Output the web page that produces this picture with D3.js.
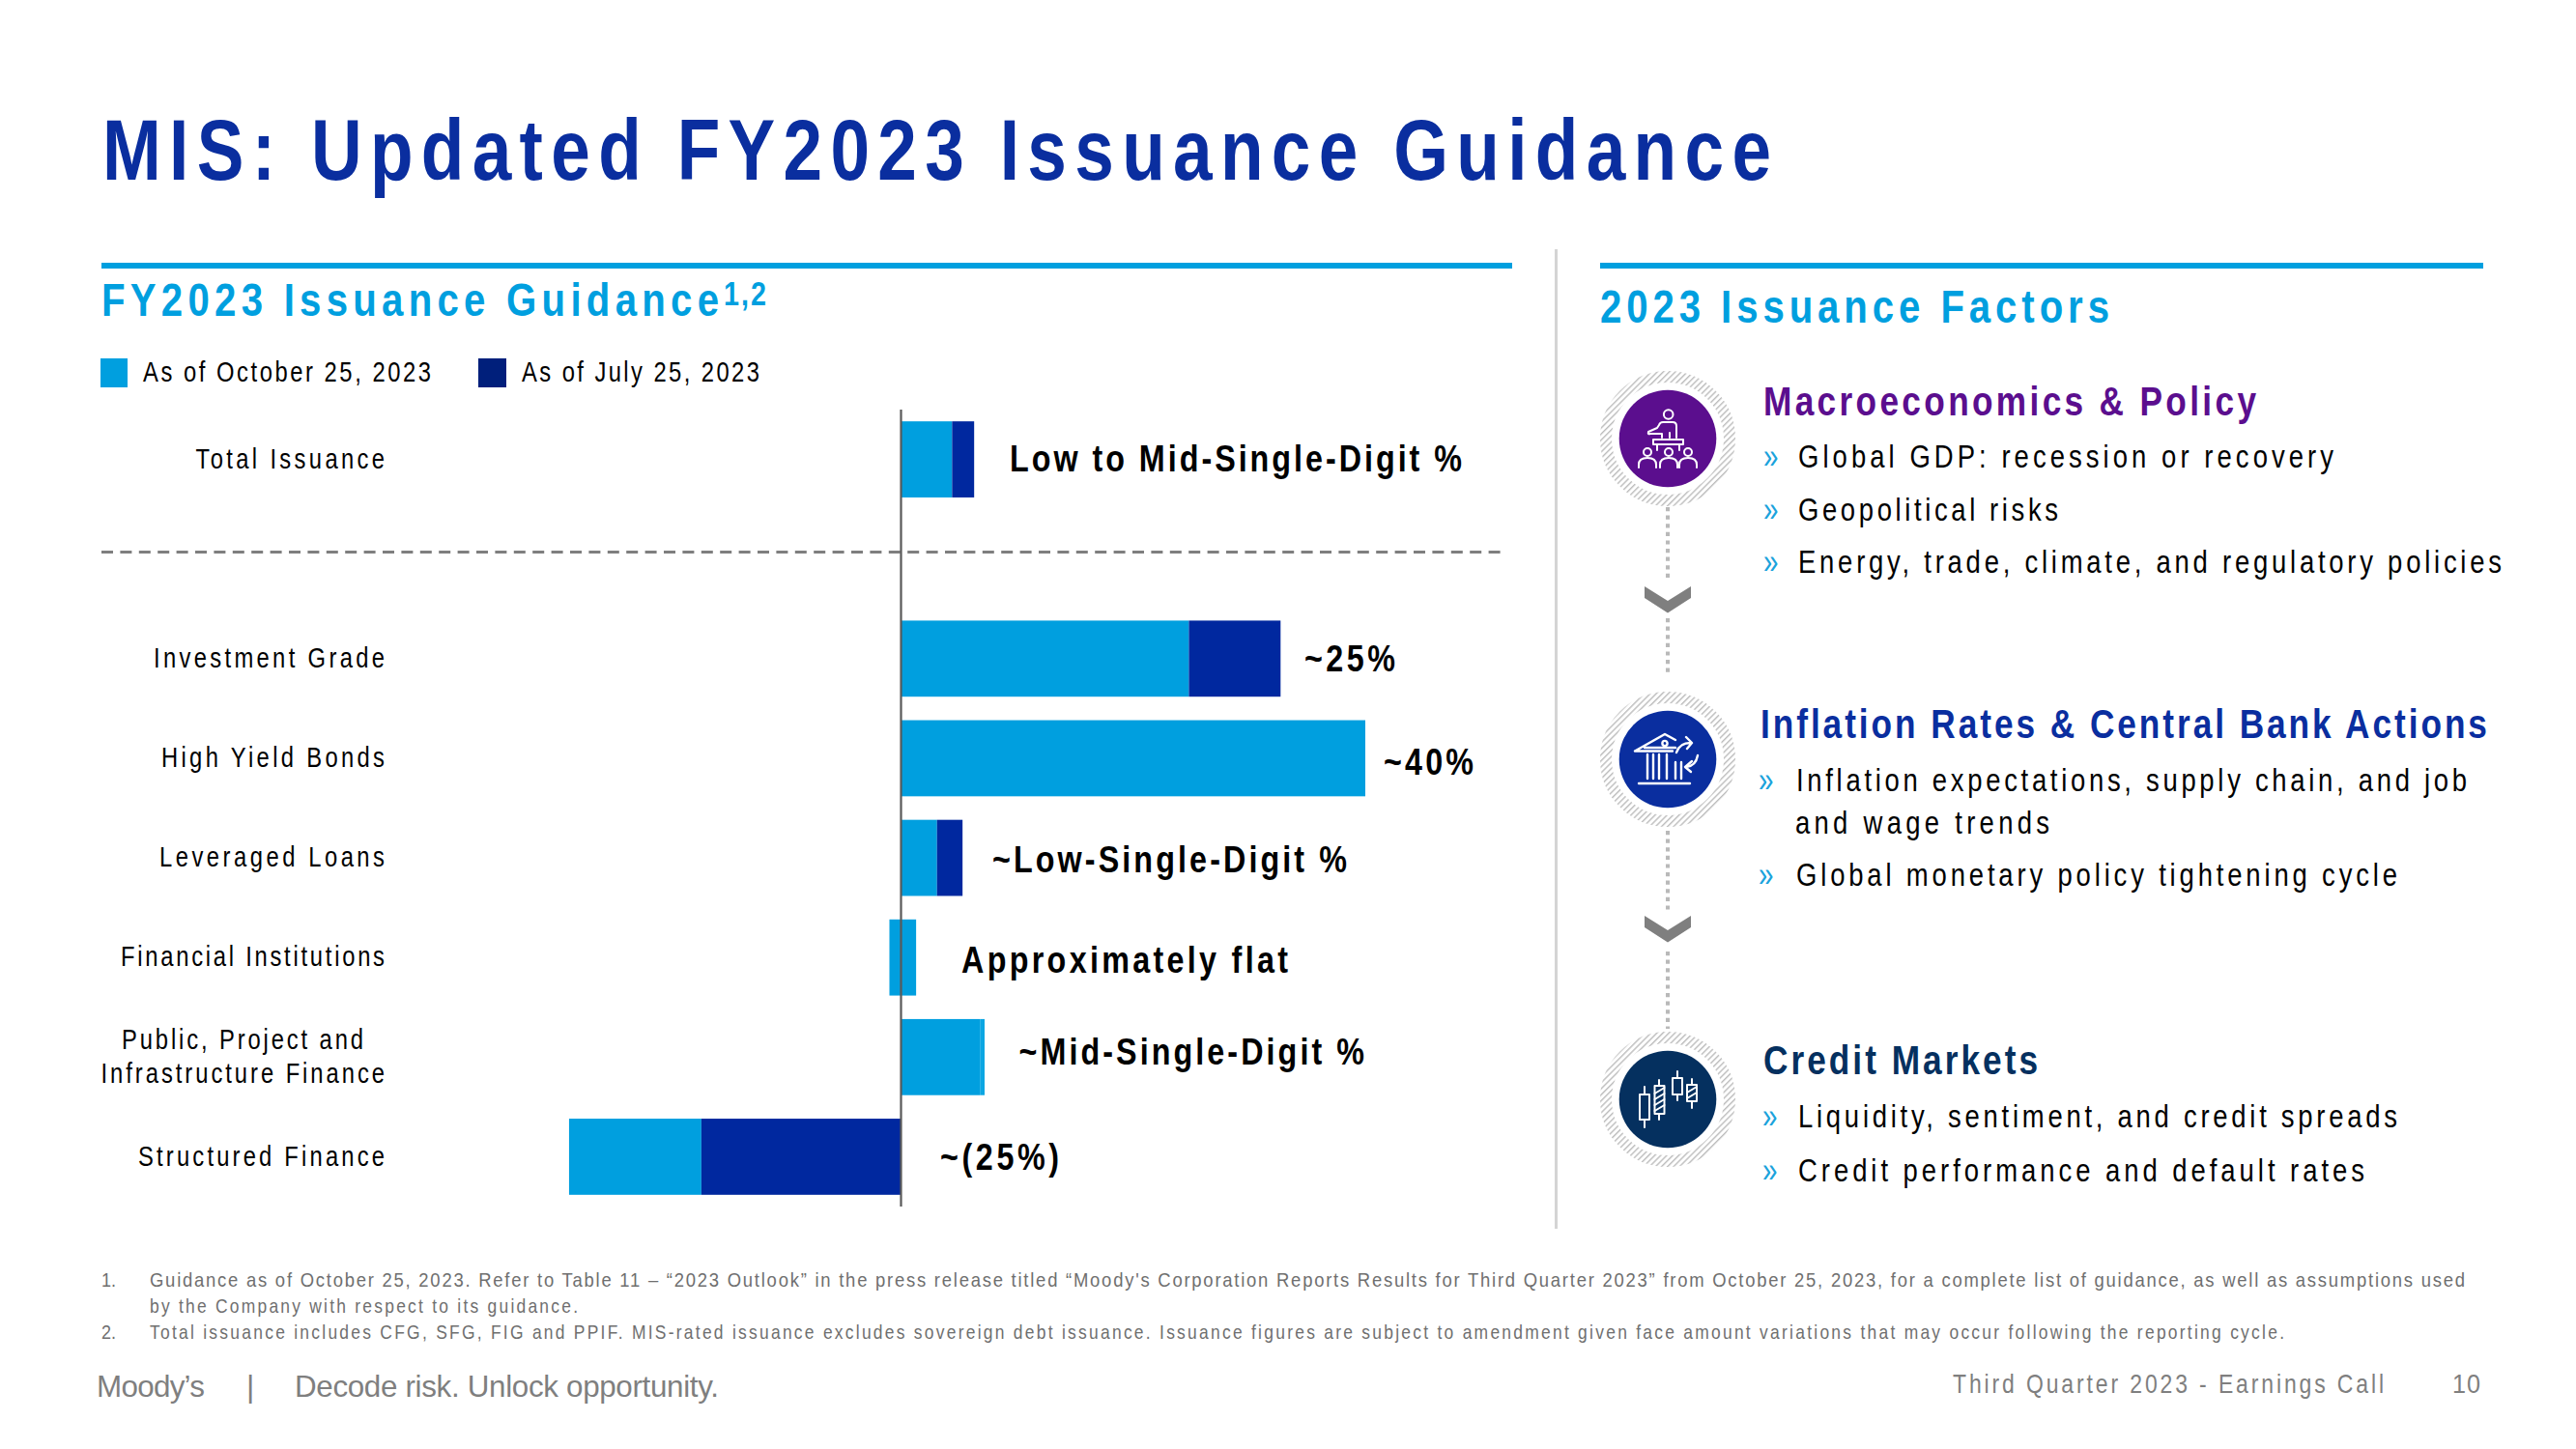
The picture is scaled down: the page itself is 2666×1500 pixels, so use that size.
<!DOCTYPE html>
<html><head><meta charset="utf-8">
<script src="https://cdn.jsdelivr.net/npm/d3@7/dist/d3.min.js"></script>
<style>html,body{margin:0;padding:0;background:#fff}svg{display:block}text{font-family:"Liberation Sans",Arial,sans-serif}</style>
</head><body><svg id="c" width="2666" height="1500"></svg>
<script>
// ---- chart data (percent change guidance) ----
const categories = ["Total Issuance","","Investment Grade","High Yield Bonds","Leveraged Loans","Financial Institutions","Public, Project and|Infrastructure Finance","Structured Finance"];
const octoberFrom = [0,null,0,0,0,-1.0,0,-28.6];
const octoberTo   = [4.4,null,24.8,40,3.1,1.3,6.8,-17.2];
const julyFrom    = [4.4,null,24.8,null,3.1,null,null,-17.2];
const julyTo      = [6.3,null,32.7,null,5.3,null,null,0];
const tintFrom    = [null,null,null,null,null,null,6.8,null];
const tintTo      = [null,null,null,null,null,null,7.2,null];
const valueLabels = ["Low to Mid-Single-Digit %","","~25%","~40%","~Low-Single-Digit %","Approximately flat","~Mid-Single-Digit %","~(25%)"];
const legendLabels = ["As of October 25, 2023","As of July 25, 2023"];

const LIGHT="#009FDF", DARK="#00289F", LEGDARK="#001F7B", TITLE="#0A2E9F";
const svg=d3.select("#c");
const SX=0.82;
function txt(x,y,s,o={}){
  const sx=o.sx??SX;
  const g=svg.append("g").attr("transform",`translate(${x},${y}) scale(${sx},1)`);
  const t=g.append("text").attr("x",0).attr("y",0).text(s)
    .attr("font-size",o.size||30).attr("font-weight",o.weight||400).attr("fill",o.fill||"#000");
  if(o.x2!=null) t.attr("textLength",(o.x2-x)/sx).attr("lengthAdjust","spacing");
  return t;
}
const defs=svg.append("defs");
const pat=defs.append("pattern").attr("id","hatch").attr("width",4.4).attr("height",4.4)
  .attr("patternUnits","userSpaceOnUse").attr("patternTransform","rotate(45)");
pat.append("rect").attr("width",1.4).attr("height",4.4).attr("fill","#bcbcbc");

// title & headings
txt(106,186,"MIS: Updated FY2023 Issuance Guidance",{size:89,weight:700,fill:TITLE,x2:1833});
svg.append("rect").attr("x",105).attr("y",272).attr("width",1460).attr("height",6).attr("fill",LIGHT);
svg.append("rect").attr("x",1656).attr("y",272).attr("width",914).attr("height",6).attr("fill",LIGHT);
txt(105,327,"FY2023 Issuance Guidance",{size:49,weight:700,fill:LIGHT,x2:744});
txt(749,316,"1,2",{size:35,weight:700,fill:LIGHT,x2:793});
txt(1656,334,"2023 Issuance Factors",{size:49,weight:700,fill:LIGHT,x2:2183});
svg.append("rect").attr("x",1609).attr("y",258).attr("width",3).attr("height",1014).attr("fill","#d4d4d4");

// legend
svg.append("rect").attr("x",104).attr("y",371).attr("width",28).attr("height",30).attr("fill",LIGHT);
svg.append("rect").attr("x",495).attr("y",371).attr("width",29).attr("height",30).attr("fill",LEGDARK);
txt(148,395,legendLabels[0],{size:29,x2:446});
txt(540,395,legendLabels[1],{size:29,x2:786});

// scales
const x=d3.scaleLinear().domain([0,40]).range([932.5,1413]);
const y=d3.scaleBand().domain(categories).range([424,1249]).paddingInner(0.236).paddingOuter(0.118);

// dashed divider
svg.append("line").attr("x1",105).attr("x2",1553).attr("y1",571.5).attr("y2",571.5)
  .attr("stroke","#7f7f7f").attr("stroke-width",3).attr("stroke-dasharray","12 7.4");

// bars
function bars(from,to,color){
  svg.append("g").selectAll("rect").data(categories.map((c,i)=>({c,a:from[i],b:to[i]})).filter(d=>d.a!=null))
   .join("rect").attr("x",d=>x(Math.min(d.a,d.b))).attr("width",d=>Math.abs(x(d.b)-x(d.a)))
   .attr("y",d=>y(d.c)).attr("height",y.bandwidth()).attr("fill",color);
}
bars(octoberFrom,octoberTo,LIGHT);
bars(julyFrom,julyTo,DARK);
bars(tintFrom,tintTo,"#0CA6E2");

// zero axis
svg.append("line").attr("x1",x(0)).attr("x2",x(0)).attr("y1",424).attr("y2",1249).attr("stroke","#595959").attr("stroke-width",2.2);

// category labels through axisLeft
const labelX1={"Total Issuance":[202.5],"Investment Grade":[159],"High Yield Bonds":[167],"Leveraged Loans":[165],"Financial Institutions":[125],"Public, Project and|Infrastructure Finance":[126,104.5],"Structured Finance":[143]};
const axisG=svg.append("g").attr("transform","translate(398,0)").call(d3.axisLeft(y).tickSize(0).tickPadding(0));
axisG.select(".domain").remove();
axisG.selectAll(".tick text").remove();
categories.forEach(c=>{
  if(!c) return;
  const cy=y(c)+y.bandwidth()/2, lines=c.split("|");
  if(lines.length===1) txt(labelX1[c][0],cy+9.3,c,{size:29,x2:398});
  else { txt(labelX1[c][0],cy-8,lines[0],{size:29,x2:376}); txt(labelX1[c][1],cy+26.6,lines[1],{size:29,x2:398}); }
});

// value labels
const vlX=[[1045,1513],null,[1350,1444],[1432,1525],[1027,1394],[995,1333],[1054.5,1412],[973,1096]];
const vlBase=[12,0,13.5,17.5,14.5,15.5,8,13.5];
categories.forEach((c,i)=>{
  if(!valueLabels[i]) return;
  txt(vlX[i][0],y(c)+y.bandwidth()/2+vlBase[i],valueLabels[i],{size:38,weight:700,x2:vlX[i][1],sx:.85});
});

// factors: flow
const flow=svg.append("g");
[[525,600],[640,700],[860,945],[985,1065]].forEach(([a,b])=>{
  flow.append("line").attr("x1",1726).attr("x2",1726).attr("y1",a).attr("y2",b)
    .attr("stroke","#b9b9b9").attr("stroke-width",4).attr("stroke-dasharray","4.2 4.4");
});
[607,948].forEach(t=>{
  flow.append("path").attr("fill","#7f7f7f")
   .attr("d",`M1702,${t}L1726,${t+15}L1750,${t}V${t+12}L1726,${t+27.5}L1702,${t+12}Z`);
});
const factorColors=["#5B0E8E","#0A2E9F","#05305F"];
const factorY=[454,786,1138];
function icon(i){
  const g=svg.append("g").attr("transform",`translate(1726,${factorY[i]})`);
  g.append("circle").attr("r",64).attr("fill","none").attr("stroke","url(#hatch)").attr("stroke-width",12);
  g.append("circle").attr("r",50.3).attr("fill",factorColors[i]);
  const w=g.append("g").attr("fill","none").attr("stroke","#fff").attr("stroke-width",2).attr("stroke-linejoin","round").attr("stroke-linecap","round");
  if(i===0){
    w.append("circle").attr("cx",0.7).attr("cy",-25).attr("r",4.8);
    w.append("path").attr("d","M9,-1V-13Q9,-17 5,-17H-5Q-8,-17 -9,-14L-11,-11L-20,-7Q-21,-4 -18,-5L-6,-5V-1M2,-6V-1M-15,1H16V6H-15ZM-11,6V12M12,6V12");
    [-21,1,21].forEach(c=>{
      w.append("circle").attr("cx",c).attr("cy",14).attr("r",4);
      w.append("path").attr("d",`M${c-9},30V27Q${c-9},20 ${c},20Q${c+9},20 ${c+9},27V30`);
    });
  } else if(i===1){
    w.attr("stroke-width",2.4);
    w.append("path").attr("d","M-34,-8.5L-3,-26L8,-20M-34,-8.5H5M-24,-12H8");
    w.append("circle").attr("cx",-3).attr("cy",-16.5).attr("r",2.6);
    [-21,-15,-9,-1].forEach(c=>w.append("line").attr("x1",c).attr("x2",c).attr("y1",-5).attr("y2",20));
    [8,14].forEach(c=>w.append("line").attr("x1",c).attr("x2",c).attr("y1",3).attr("y2",20));
    w.append("line").attr("x1",-30).attr("x2",23).attr("y1",25).attr("y2",25);
    w.append("path").attr("d","M9,-7Q12,-17 24,-17M19,-23L25,-17L20,-11");
    w.append("path").attr("d","M31,-4Q29,7 19,8M25,2L18,8L24,13");
  } else {
    const candles=[[-24,-29,-19,-5,21,-13,29],[-9,-13.5,-3.5,-14,15,-20,21],[10,5,15,-22,-5,-29,1],[25,20,30,-15,2,-21,9]];
    candles.forEach((k,j)=>{
      w.append("rect").attr("x",k[1]).attr("y",k[3]).attr("width",k[2]-k[1]).attr("height",k[4]-k[3]);
      w.append("line").attr("x1",k[0]).attr("x2",k[0]).attr("y1",k[5]).attr("y2",k[3]);
      w.append("line").attr("x1",k[0]).attr("x2",k[0]).attr("y1",k[4]).attr("y2",k[6]);
      if(j%2){ for(let h=k[3]+5;h<k[4];h+=6) w.append("line").attr("x1",k[1]).attr("x2",k[2]).attr("y1",h+3).attr("y2",h-3); }
    });
  }
}
[0,1,2].forEach(icon);

// factors: text
function head(x1,b,s,c,x2){ txt(x1,b,s,{size:43,weight:700,fill:c,x2}); }
function bullet(xb,xt,b,s,x2){
  if(xb!=null) txt(xb,b+1,"»",{size:37,fill:"#1BA3DC",sx:.75});
  txt(xt,b,s,{size:33.5,x2});
}
head(1825,430,"Macroeconomics & Policy",factorColors[0],2335);
bullet(1825,1861,484,"Global GDP: recession or recovery",2415);
bullet(1825,1861,539,"Geopolitical risks",2130);
bullet(1825,1861,593,"Energy, trade, climate, and regulatory policies",2589);
head(1822,764,"Inflation Rates & Central Bank Actions",factorColors[1],2574);
bullet(1820,1859,819,"Inflation expectations, supply chain, and job",2553);
bullet(null,1858,863,"and wage trends",2121);
bullet(1820,1859,917,"Global monetary policy tightening cycle",2481);
head(1825,1112,"Credit Markets",factorColors[2],2109);
bullet(1824,1861,1167,"Liquidity, sentiment, and credit spreads",2481);
bullet(1824,1861,1223,"Credit performance and default rates",2447);

// footnotes
const FN="#6f6f6f";
txt(105,1332,"1.",{size:20,fill:FN,sx:.9});
txt(155,1332,"Guidance as of October 25, 2023. Refer to Table 11 – “2023 Outlook” in the press release titled “Moody's Corporation Reports Results for Third Quarter 2023” from October 25, 2023, for a complete list of guidance, as well as assumptions used",{size:20.5,fill:FN,x2:2551,sx:.9});
txt(155,1359,"by the Company with respect to its guidance.",{size:20.5,fill:FN,x2:598,sx:.85});
txt(105,1386,"2.",{size:20,fill:FN,sx:.9});
txt(155,1386,"Total issuance includes CFG, SFG, FIG and PPIF. MIS-rated issuance excludes sovereign debt issuance. Issuance figures are subject to amendment given face amount variations that may occur following the reporting cycle.",{size:20.5,fill:FN,x2:2364,sx:.85});
const FT="#7f7f7f";
txt(100,1446,"Moody’s",{size:32,fill:FT,sx:.98,x2:212});
txt(255,1446,"|",{size:32,fill:FT,sx:1});
txt(305,1446,"Decode risk. Unlock opportunity.",{size:32,fill:FT,sx:.98,x2:744});
txt(2021,1442,"Third Quarter 2023 - Earnings Call",{size:28,fill:FT,x2:2467});
txt(2538,1442,"10",{size:28,fill:FT,x2:2567,sx:.9});
</script></body></html>
